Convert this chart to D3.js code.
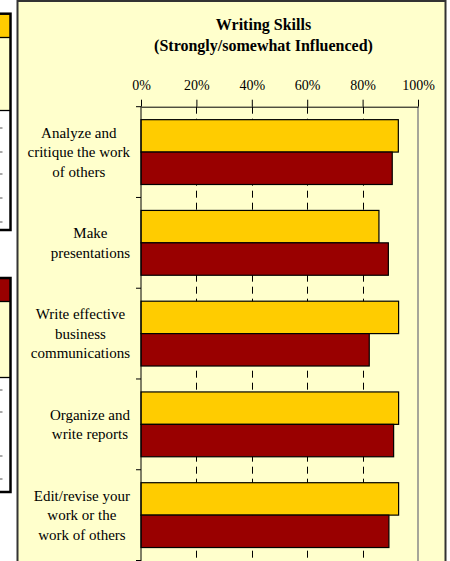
<!DOCTYPE html>
<html>
<head>
<meta charset="utf-8">
<script src="https://cdn.jsdelivr.net/npm/d3@7"></script>
<style>
  body { margin: 0; background: #fff; }
  text { font-family: "Liberation Serif", "Times New Roman", serif; fill: #000; }
</style>
</head>
<body>
<div id="chart"></div>
<script>
// data
var categories = [
  "Analyze and\ncritique the work\nof others",
  "Make\npresentations",
  "Write effective\nbusiness\ncommunications",
  "Organize and\nwrite reports",
  "Edit/revise your\nwork or the\nwork of others"
];
var seriesNames = ["Group A", "Group B"];
var groupA = [0.929, 0.859, 0.930, 0.930, 0.930];
var groupB = [0.907, 0.893, 0.824, 0.912, 0.895];
var seriesColors = ["#FFCC00", "#990000"];
var tickVals = [0, 0.2, 0.4, 0.6, 0.8, 1];

var width = 450, height = 561;
var margin = {top: 106.7, left: 141, right: 31.5, bottom: 0.5};

var svg = d3.select("#chart").append("svg")
    .attr("width", width)
    .attr("height", height);

// cut off boxes on the left edge
function sideBox(top, head, mid, bottom, headColor, marks) {
  svg.append("rect").attr("x", -20).attr("y", top).attr("width", 30.5).attr("height", head - top)
    .attr("fill", headColor);
  svg.append("rect").attr("x", -20).attr("y", head).attr("width", 30.5).attr("height", mid - head)
    .attr("fill", "#FFFFCC");
  svg.append("rect").attr("x", -20).attr("y", mid).attr("width", 30.5).attr("height", bottom - mid)
    .attr("fill", "#fff");
  svg.append("line").attr("x1", -20).attr("x2", 10.5).attr("y1", head).attr("y2", head)
    .attr("stroke", "#000").attr("stroke-width", 1.3);
  svg.append("line").attr("x1", -20).attr("x2", 10.5).attr("y1", mid).attr("y2", mid)
    .attr("stroke", "#000").attr("stroke-width", 1.3);
  svg.append("rect").attr("x", -20).attr("y", top).attr("width", 30.5).attr("height", bottom - top)
    .attr("fill", "none").attr("stroke", "#000").attr("stroke-width", 2.5);
  marks.forEach(function(m) {
    svg.append("line").attr("x1", 0).attr("x2", 2.5).attr("y1", m).attr("y2", m)
      .attr("stroke", "#555").attr("stroke-width", 1);
  });
}
sideBox(13.7, 37.5, 110.5, 230, "#FFCC00", [128, 152, 174, 198, 222]);
sideBox(278, 301.5, 377.5, 492, "#990000", [390, 412, 456, 479]);

// chart panel
svg.append("rect")
    .attr("x", 17.5).attr("y", 1)
    .attr("width", 428).attr("height", 620)
    .attr("fill", "#FFFFCC")
    .attr("stroke", "#333")
    .attr("stroke-width", 2);

svg.append("text").attr("x", 263.5).attr("y", 29.5)
    .attr("text-anchor", "middle").style("font-size", "16px").style("font-weight", "bold")
    .text("Writing Skills");
svg.append("text").attr("x", 263.5).attr("y", 50.5)
    .attr("text-anchor", "middle").style("font-size", "16px").style("font-weight", "bold")
    .text("(Strongly/somewhat Influenced)");

var xScale = d3.scaleLinear()
    .domain([0, 1])
    .range([margin.left, width - margin.right - 0.5 - 0]);

var yScale = d3.scaleBand()
    .domain(categories)
    .range([margin.top, height - margin.bottom])
    .paddingInner(0).paddingOuter(0);

var ySub = d3.scaleBand()
    .domain(seriesNames)
    .range([0, yScale.bandwidth()])
    .paddingInner(0).paddingOuter(0.4);

var plotBottom = height - margin.bottom;

// dashed gridlines
svg.selectAll(".grid")
    .data(tickVals.slice(1, 5))
    .enter().append("line")
    .attr("class", "grid")
    .attr("x1", function(d) { return Math.round(xScale(d)) + 0.5; })
    .attr("x2", function(d) { return Math.round(xScale(d)) + 0.5; })
    .attr("y1", margin.top)
    .attr("y2", plotBottom)
    .attr("stroke", "#000")
    .attr("stroke-dasharray", "7,5");

// right border of plot area
svg.append("line")
    .attr("x1", xScale(1)).attr("x2", xScale(1))
    .attr("y1", margin.top).attr("y2", height)
    .attr("stroke", "#888").attr("stroke-width", 1.5);

// bars
var rows = categories.map(function(c, i) {
  return {cat: c, vals: [groupA[i], groupB[i]]};
});

var groups = svg.selectAll(".row")
    .data(rows)
    .enter().append("g")
    .attr("class", "row")
    .attr("transform", function(d) { return "translate(0," + yScale(d.cat) + ")"; });

groups.selectAll("rect")
    .data(function(d) { return d.vals.map(function(v, j) { return {s: seriesNames[j], v: v, j: j}; }); })
    .enter().append("rect")
    .attr("x", xScale(0))
    .attr("y", function(d) { return ySub(d.s); })
    .attr("width", function(d) { return xScale(d.v) - xScale(0); })
    .attr("height", ySub.bandwidth())
    .attr("fill", function(d) { return seriesColors[d.j]; })
    .attr("stroke", "#000")
    .attr("stroke-width", 1.2);

// top axis
var xAxis = svg.append("g")
    .attr("transform", "translate(0," + margin.top + ")")
    .call(d3.axisTop(xScale)
      .tickValues(tickVals)
      .tickFormat(d3.format(".0%"))
      .tickSize(7)
      .tickSizeOuter(0)
      .tickPadding(10));
xAxis.selectAll("text").style("font-size", "14px").style("font-family", "Liberation Serif, serif").attr("fill", "#000");
xAxis.selectAll("line, path").attr("stroke", "#000");

// left axis with ticks between categories
svg.append("line")
    .attr("x1", xScale(0)).attr("x2", xScale(0))
    .attr("y1", margin.top).attr("y2", height)
    .attr("stroke", "#000");
var bounds = categories.map(function(c) { return yScale(c); }).concat([plotBottom]);
svg.selectAll(".ytick")
    .data(bounds)
    .enter().append("line")
    .attr("x1", xScale(0) - 5).attr("x2", xScale(0))
    .attr("y1", function(d) { return d; })
    .attr("y2", function(d) { return d; })
    .attr("stroke", "#000");

// category labels: lines centred in a block that ends at x=130
var labels = svg.selectAll(".lab")
    .data(categories)
    .enter().append("text")
    .attr("class", "lab")
    .style("font-size", "15px")
    .attr("text-anchor", "middle");

labels.each(function(c) {
  var el = d3.select(this);
  var lines = c.split("\n");
  var lh = 19.5;
  var cy = yScale(c) + yScale.bandwidth() / 2;
  var y0 = cy - (lines.length - 1) * lh / 2 + 5;
  lines.forEach(function(t, k) {
    el.append("tspan").attr("x", 0).attr("y", y0 + k * lh).text(t);
  });
  var maxW = 0;
  el.selectAll("tspan").each(function() {
    maxW = Math.max(maxW, this.getComputedTextLength());
  });
  el.selectAll("tspan").attr("x", 130 - maxW / 2);
});
</script>
</body>
</html>
